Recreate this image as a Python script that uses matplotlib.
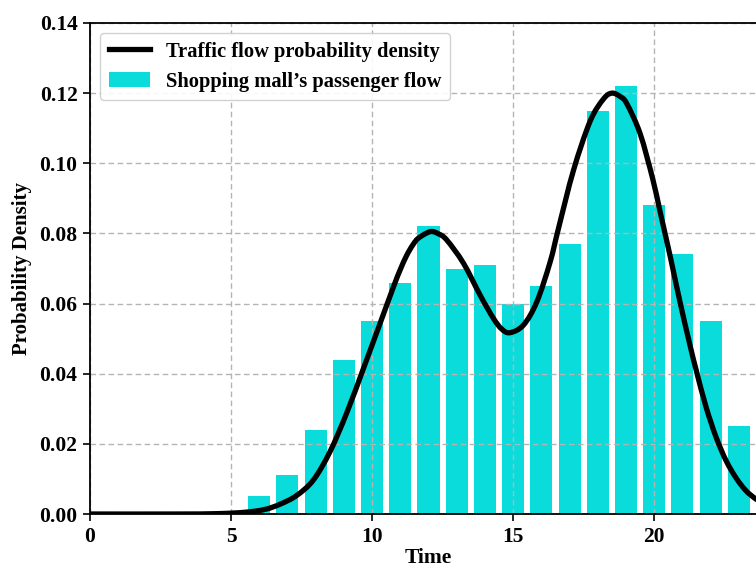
import matplotlib
matplotlib.use("Agg")
import matplotlib.pyplot as plt
from matplotlib.ticker import FormatStrFormatter
from matplotlib.path import Path
from matplotlib.patches import PathPatch
from matplotlib.lines import Line2D

# Histogram of shopping mall passenger flow
hours = [6, 7, 8, 9, 10, 11, 12, 13, 14, 15, 16, 17, 18, 19, 20, 21, 22, 23]
flow = [0.005, 0.011, 0.024, 0.044, 0.055, 0.066, 0.082, 0.070, 0.071, 0.060,
        0.065, 0.077, 0.115, 0.122, 0.088, 0.074, 0.055, 0.025]

# Traffic flow probability density curve
curve_x = [0.0, 3.0, 4.5, 5.5, 6.2, 6.74, 7.33, 7.92, 8.51, 9.10, 9.69, 10.28,
           10.76, 11.0, 11.23, 11.45, 11.65, 12.06, 12.35, 12.65, 13.24, 13.83,
           14.30, 14.6, 14.89, 15.37, 15.84, 16.31, 16.61, 17.14, 17.73, 18.2,
           18.5, 18.8, 19.03, 19.5, 19.95, 20.21, 20.57, 20.92, 21.28, 21.49,
           21.84, 22.2, 22.55, 22.91, 23.26, 23.62, 24.0]
curve_y = [0.0, 0.0, 0.0001, 0.0005, 0.0013, 0.0028, 0.0053, 0.0097, 0.0178,
           0.0288, 0.0414, 0.0543, 0.0648, 0.0697, 0.0738, 0.0768, 0.0787,
           0.0805, 0.0799, 0.0781, 0.0715, 0.0624, 0.0558, 0.0527, 0.0517,
           0.0539, 0.0605, 0.0718, 0.0815, 0.0980, 0.1120, 0.1183, 0.1200,
           0.1190, 0.1170, 0.1085, 0.0955, 0.0862, 0.0734, 0.0603, 0.0478,
           0.0410, 0.0305, 0.0218, 0.0152, 0.0102, 0.0066, 0.0042, 0.0025]

xticks = [0, 5, 10, 15, 20]
yticks = [0.00, 0.02, 0.04, 0.06, 0.08, 0.10, 0.12, 0.14]

plt.rcParams['font.family'] = ['Liberation Serif', 'DejaVu Serif']
plt.rcParams['font.weight'] = 'bold'

fig = plt.figure(figsize=(7.56, 5.67), dpi=100)
ax = fig.add_axes([90 / 756, 1 - 514 / 567, 677 / 756, 491 / 567])

ax.bar(hours, flow, width=0.78, color='#0ADCDC', zorder=1,
       label="Shopping mall\u2019s passenger flow")

# smooth curve through the read points (Catmull-Rom as cubic Bezier segments)
pts = list(zip(curve_x, curve_y))
verts = [pts[0]]
codes = [Path.MOVETO]
n = len(pts)
for i in range(n - 1):
    p0 = pts[i - 1] if i > 0 else pts[i]
    p1 = pts[i]
    p2 = pts[i + 1]
    p3 = pts[i + 2] if i + 2 < n else pts[i + 1]
    c1 = (p1[0] + (p2[0] - p0[0]) / 6, p1[1] + (p2[1] - p0[1]) / 6)
    c2 = (p2[0] - (p3[0] - p1[0]) / 6, p2[1] - (p3[1] - p1[1]) / 6)
    verts += [c1, c2, p2]
    codes += [Path.CURVE4] * 3
curve = PathPatch(Path(verts, codes), fill=False, edgecolor='black', lw=3.8,
                  capstyle='round', joinstyle='round', zorder=3,
                  transform=ax.transData, clip_on=True)
ax.add_patch(curve)
curve_handle = Line2D([], [], color='black', lw=3.8)

ax.set_xlim(0, 24)
ax.set_ylim(0, 0.14)
ax.set_xticks(xticks)
ax.set_yticks(yticks)
ax.yaxis.set_major_formatter(FormatStrFormatter('%.2f'))
ax.set_axisbelow(False)
ax.grid(True, linestyle=(0, (4, 2.5)), color='#b4b4b4', linewidth=1.0)

for lab in ax.get_xticklabels() + ax.get_yticklabels():
    lab.set_fontweight('bold')
ax.tick_params(axis='both', labelsize=15.5, width=1.2, length=5, pad=4)
for s in ax.spines.values():
    s.set_linewidth(1.3)
    s.set_zorder(5)

ax.set_xlabel('Time', fontsize=15.5, fontweight='bold', labelpad=1)
ax.set_ylabel('Probability Density', fontsize=15, fontweight='bold', labelpad=5)

bars_handle = ax.patches[0]
leg = ax.legend([curve_handle, bars_handle],
                ['Traffic flow probability density', "Shopping mall\u2019s passenger flow"],
                loc='upper left', prop={'weight': 'bold', 'size': 14.8},
                frameon=True, fancybox=True, framealpha=0.9, edgecolor='#cccccc',
                handlelength=2.0, borderaxespad=0.5)
leg.set_zorder(6)

fig.savefig('out.png', dpi=100)
